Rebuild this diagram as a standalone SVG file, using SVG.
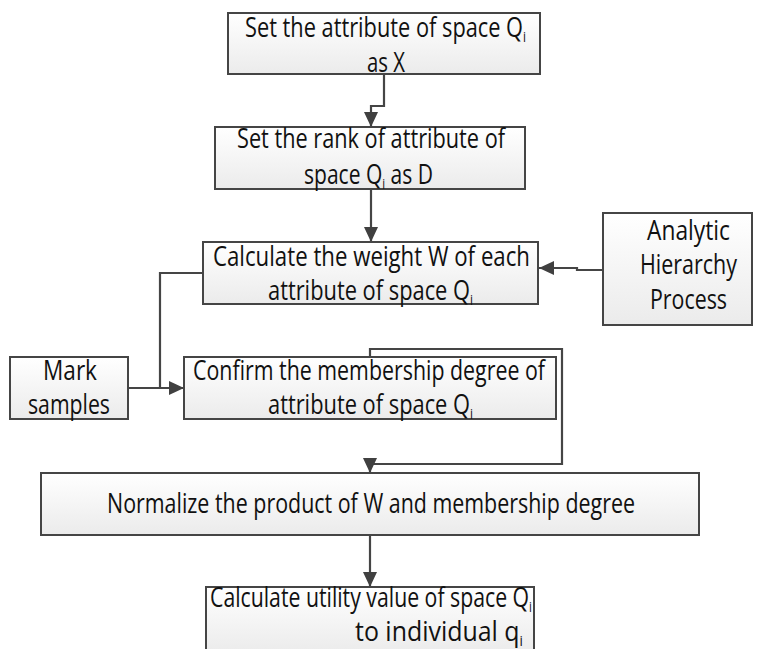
<svg xmlns="http://www.w3.org/2000/svg" width="757" height="649" viewBox="0 0 757 649">
<defs>
<linearGradient id="g" x1="0" y1="0" x2="0" y2="1">
<stop offset="0" stop-color="#ffffff"/>
<stop offset="1" stop-color="#ebebeb"/>
</linearGradient>
<marker id="ah" markerUnits="userSpaceOnUse" markerWidth="16" markerHeight="16" viewBox="0 0 16 16" refX="15" refY="8" orient="auto">
<path d="M0,1 L15,8 L0,15 Z" fill="#404040"/>
</marker>
<style>
.box{fill:url(#g);stroke:#454545;stroke-width:2}
.t{font-family:"Open Sans","Noto Sans",sans-serif;font-size:28px;fill:#111}
.s{font-size:15px}
.c{fill:none;stroke:#454545;stroke-width:2.2}
</style>
</defs>
<rect width="757" height="649" fill="#fff"/>
<g id="connectors">
<path class="c" d="M384,74 V106 H371 V127" marker-end="url(#ah)"/>
<path class="c" d="M371,189 V242" marker-end="url(#ah)"/>
<path class="c" d="M603,270 H577 V268 H539" marker-end="url(#ah)"/>
<path class="c" d="M203,273 H160 V388"/>
<path class="c" d="M128,388 H184" marker-end="url(#ah)"/>
<path class="c" d="M370,357 V349 H562 V464 H370 V473" marker-end="url(#ah)"/>
<path class="c" d="M370,535 V587" marker-end="url(#ah)"/>
</g>
<g id="n1">
<rect class="box" x="228" y="13" width="312" height="61"/>
<text class="t" x="245" y="37" textLength="281" lengthAdjust="spacingAndGlyphs">Set the attribute of space Q<tspan class="s" dy="5">i</tspan></text>
<text class="t" x="367" y="72" textLength="38" lengthAdjust="spacingAndGlyphs">as X</text>
</g>
<g id="n2">
<rect class="box" x="215" y="127" width="310" height="62"/>
<text class="t" x="237" y="148" textLength="268" lengthAdjust="spacingAndGlyphs">Set the rank of attribute of</text>
<text class="t" x="304" y="184" textLength="129" lengthAdjust="spacingAndGlyphs">space Q<tspan class="s" dy="5">i</tspan><tspan dy="-5">  as D</tspan></text>
</g>
<g id="n3">
<rect class="box" x="203" y="242" width="335" height="62"/>
<text class="t" x="213" y="266" textLength="317" lengthAdjust="spacingAndGlyphs">Calculate the weight W of  each</text>
<text class="t" x="268" y="300" textLength="205" lengthAdjust="spacingAndGlyphs">attribute of space Q<tspan class="s" dy="5">i</tspan></text>
</g>
<g id="ahp">
<rect class="box" x="603" y="213" width="149" height="112"/>
<text class="t" x="647" y="240" textLength="83" lengthAdjust="spacingAndGlyphs">Analytic</text>
<text class="t" x="640" y="274" textLength="97" lengthAdjust="spacingAndGlyphs">Hierarchy</text>
<text class="t" x="650" y="309" textLength="77" lengthAdjust="spacingAndGlyphs">Process</text>
</g>
<g id="mark">
<rect class="box" x="10" y="357" width="118" height="62"/>
<text class="t" x="43" y="380" textLength="54" lengthAdjust="spacingAndGlyphs">Mark</text>
<text class="t" x="28" y="414" textLength="82" lengthAdjust="spacingAndGlyphs">samples</text>
</g>
<g id="n4">
<rect class="box" x="184" y="357" width="372" height="62"/>
<text class="t" x="193" y="380" textLength="352" lengthAdjust="spacingAndGlyphs">Confirm the membership degree of</text>
<text class="t" x="268" y="414" textLength="205" lengthAdjust="spacingAndGlyphs">attribute of space Q<tspan class="s" dy="5">i</tspan></text>
</g>
<g id="n5">
<rect class="box" x="41" y="473" width="658" height="62"/>
<text class="t" x="107" y="513" textLength="528" lengthAdjust="spacingAndGlyphs">Normalize the product of W and membership degree</text>
</g>
<g id="n6">
<rect class="box" x="206" y="587" width="328" height="66"/>
<text class="t" x="210" y="607" textLength="322" lengthAdjust="spacingAndGlyphs">Calculate utility value of space Q<tspan class="s" dy="5">i</tspan></text>
<text class="t" x="355" y="641" textLength="168" lengthAdjust="spacingAndGlyphs">to individual q<tspan class="s" dy="5">i</tspan></text>
</g>
</svg>
